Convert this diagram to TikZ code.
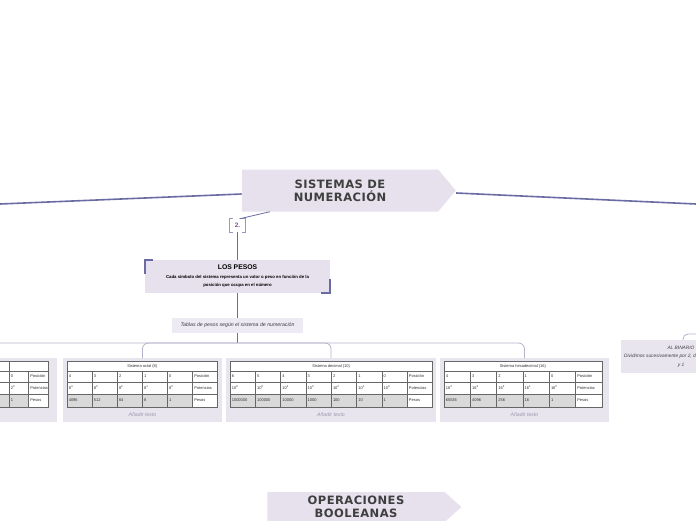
\documentclass[tikz,border=0pt]{standalone}
\usepackage{fontspec}
\setmainfont{Liberation Sans}
\newfontfamily\titulofont[LetterSpace=4]{DejaVu Sans}
\usetikzlibrary{shapes.symbols}

\definecolor{lila}{HTML}{E6E1EC}
\definecolor{lilaclaro}{HTML}{EEEAF3}
\definecolor{marcolila}{HTML}{E9E5EF}
\definecolor{pizarra}{HTML}{6B6BA3}
\definecolor{buslila}{HTML}{B4B1CA}
\definecolor{morado}{HTML}{7E4FA0}
\definecolor{textogris}{HTML}{3F3F3F}
\definecolor{pesosgris}{HTML}{D9D9D9}
\definecolor{anadirgris}{HTML}{9A98AE}

\tikzstyle{flecha} = [signal, signal to=east, signal pointer angle=100,
  fill=lila, minimum height=42pt, minimum width=214pt, inner sep=0pt,
  align=center, text=textogris,
  font=\titulofont\bfseries\fontsize{11.5}{13}\selectfont]
\tikzstyle{pesos} = [fill=lila, rectangle, minimum width=185pt,
  minimum height=33pt, inner sep=0pt, align=center, text=black,
  font=\bfseries\fontsize{4.3}{8.5}\selectfont]
\tikzstyle{tablas} = [fill=lilaclaro, rectangle, minimum width=131pt,
  minimum height=15pt, inner sep=0pt, text=textogris,
  font=\itshape\fontsize{5.2}{6}\selectfont]
\tikzstyle{marco} = [fill=marcolila, rectangle, minimum height=64pt,
  inner sep=0pt]
\tikzstyle{anadir} = [text=anadirgris, inner sep=0pt,
  font=\itshape\fontsize{5.2}{6}\selectfont]
\tikzstyle{celda} = [anchor=west, inner sep=1.6pt, text=black!80,
  font=\fontsize{4}{4.5}\selectfont]
\tikzstyle{rejilla} = [draw=black!60, line width=0.4pt]
\tikzstyle{rama} = [draw=pizarra, line width=1.6pt]
\tikzstyle{ramafina} = [draw=pizarra, line width=0.8pt]
\tikzstyle{bus} = [draw=buslila, line width=0.8pt, rounded corners=6pt]
\tikzstyle{esquina} = [draw=pizarra, line width=1.5pt]
\tikzstyle{corchete} = [draw=pizarra!70, line width=0.8pt]

% tabla de pesos: nombre, x izquierda, ancho columna, columnas, titulo, datos
\newcommand{\tablapesos}[6]{%
  \pgfmathsetmacro{\xlab}{#2+#4*#3}
  \pgfmathsetmacro{\xder}{#2+(#4+1)*#3}
  \pgfmathsetmacro{\xmed}{(#2+\xder)/2}
  \fill[white] (#2,361) rectangle (\xder,407);
  \fill[pesosgris] (#2,394) rectangle (\xlab,407);
  \node[celda,anchor=center] (#1-tit) at (\xmed,366) {#5};
  \foreach \pos/\pot/\peso [count=\i from 0] in {#6}{
    \pgfmathsetmacro{\xa}{#2+\i*#3}
    \node[celda] (#1-pos\i) at (\xa,376.5) {\pos};
    \node[celda] (#1-pot\i) at (\xa,388) {\pot};
    \node[celda] (#1-peso\i) at (\xa,400.5) {\peso};
    \draw[rejilla] (\xa,371) -- (\xa,407);
  }
  \node[celda] (#1-lpos) at (\xlab,376.5) {Posición};
  \node[celda] (#1-lpot) at (\xlab,388) {Potencias};
  \node[celda] (#1-lpeso) at (\xlab,400.5) {Pesos};
  \draw[rejilla] (#2,361) rectangle (\xder,407)
    (#2,371) -- (\xder,371) (#2,382) -- (\xder,382) (\xlab,371) -- (\xlab,407);
  \draw[rejilla,line width=0.9pt] (#2,394) -- (\xder,394);
}

\begin{document}
\begin{tikzpicture}[x=1pt,y=-1pt]
  \useasboundingbox (0,0) rectangle (696,520);
  \clip (0,0) rectangle (696,520);

  % tema central
  \node[flecha] (sistemas) at (340,190.5) {SISTEMAS DE\\NUMERACIÓN};
  \coordinate (izq) at (0,204);
  \coordinate (dcha) at (696,204);
  \draw[rama] (izq) -- ([yshift=-3.5pt]sistemas.west);
  \draw[rama] ([yshift=-2.5pt]sistemas.east) -- (dcha);

  % rama 2
  \node[text=morado, font=\bfseries\fontsize{6.5}{7}\selectfont,
    minimum width=15pt, minimum height=13pt, inner sep=0pt] (num2) at (237.5,225.5) {2.};
  \draw[corchete] ([xshift=3pt]num2.north west) -- (num2.north west)
    -- (num2.south west) -- ([xshift=3pt]num2.south west);
  \draw[corchete] ([xshift=-3pt]num2.north east) -- (num2.north east)
    -- (num2.south east) -- ([xshift=-3pt]num2.south east);
  \draw[ramafina] ([xshift=-70pt]sistemas.south) -- ([xshift=2pt]num2.north);

  \node[pesos] (pesos) at (237.5,276.5)
    {\fontsize{6.8}{9}\selectfont LOS PESOS\\
     Cada símbolo del sistema representa un valor o peso en función de la\\
     posición que ocupa en el número};
  \draw[esquina] ([yshift=-14pt]pesos.north west) -- (pesos.north west)
    -- ([xshift=8pt]pesos.north west);
  \draw[esquina] ([yshift=14pt]pesos.south east) -- (pesos.south east)
    -- ([xshift=-9pt]pesos.south east);
  \draw[ramafina] (num2.south) -- (pesos.north);

  \node[tablas] (tablas) at (237.5,325.5) {Tablas de pesos según el sistema de numeración};
  \draw[ramafina] (pesos.south) -- (tablas.north);

  % marcos de las tablas
  \node[marco, minimum width=167pt] (binario) at (-26.5,390) {};
  \node[marco, minimum width=159pt] (octal) at (142.5,390) {};
  \node[marco, minimum width=210pt] (decimal) at (331,390) {};
  \node[marco, minimum width=169pt] (hexa) at (524.5,390) {};

  \coordinate (nudo) at (237.5,343);
  \draw[ramafina] (tablas.south) -- (nudo);
  \draw[bus] (nudo) -| (binario.north);
  \draw[bus] (nudo) -| (octal.north);
  \draw[bus] (nudo) -| (decimal.north);
  \draw[bus] (nudo) -| (hexa.north);

  % binario (solo la parte visible)
  \fill[white] (-5,361) rectangle (9,394);
  \fill[pesosgris] (-5,394) rectangle (9,407);
  \draw[rejilla] (-5,361) -- (9,361) (-5,371) -- (9,371) (-5,382) -- (9,382)
    (-5,407) -- (9,407);
  \draw[rejilla,line width=0.9pt] (-5,394) -- (9,394);
  \tablapesos{bin}{9}{19.5}{1}{}{0/2\textsuperscript{0}/1}

  \tablapesos{oct}{67}{25.1}{5}{Sistema octal (8)}
    {4/8\textsuperscript{4}/4096, 3/8\textsuperscript{3}/512, 2/8\textsuperscript{2}/64,
     1/8\textsuperscript{1}/8, 0/8\textsuperscript{0}/1}
  \node[anadir] (oct-txt) at (142.5,415) {Añadir texto};

  \tablapesos{dec}{230}{25.3}{7}{Sistema decimal (10)}
    {6/10\textsuperscript{6}/1000000, 5/10\textsuperscript{5}/100000,
     4/10\textsuperscript{4}/10000, 3/10\textsuperscript{3}/1000,
     2/10\textsuperscript{2}/100, 1/10\textsuperscript{1}/10, 0/10\textsuperscript{0}/1}
  \node[anadir] (dec-txt) at (331,415) {Añadir texto};

  \tablapesos{hex}{444}{26.3}{5}{Sistema hexadecimal (16)}
    {4/16\textsuperscript{4}/65536, 3/16\textsuperscript{3}/4096,
     2/16\textsuperscript{2}/256, 1/16\textsuperscript{1}/16, 0/16\textsuperscript{0}/1}
  \node[anadir] (hex-txt) at (524.5,415) {Añadir texto};

  % rama de la derecha
  \node[marco, minimum width=120pt, minimum height=33pt, align=center,
    text=textogris, font=\itshape\fontsize{4.8}{8.5}\selectfont] (albinario) at (681,356.5)
    {AL BINARIO\\Dividimos sucesivamente por 2, dando como restos 0\\y 1};
  \coordinate (rama-dcha) at (710,334);
  \draw[bus, rounded corners=5pt] ([xshift=2pt]albinario.north) |- (rama-dcha);

  % operaciones booleanas
  \node[flecha, minimum width=194pt, minimum height=30pt, signal pointer angle=84]
    (booleanas) at (356,507) {OPERACIONES\\BOOLEANAS};
\end{tikzpicture}
\end{document}
